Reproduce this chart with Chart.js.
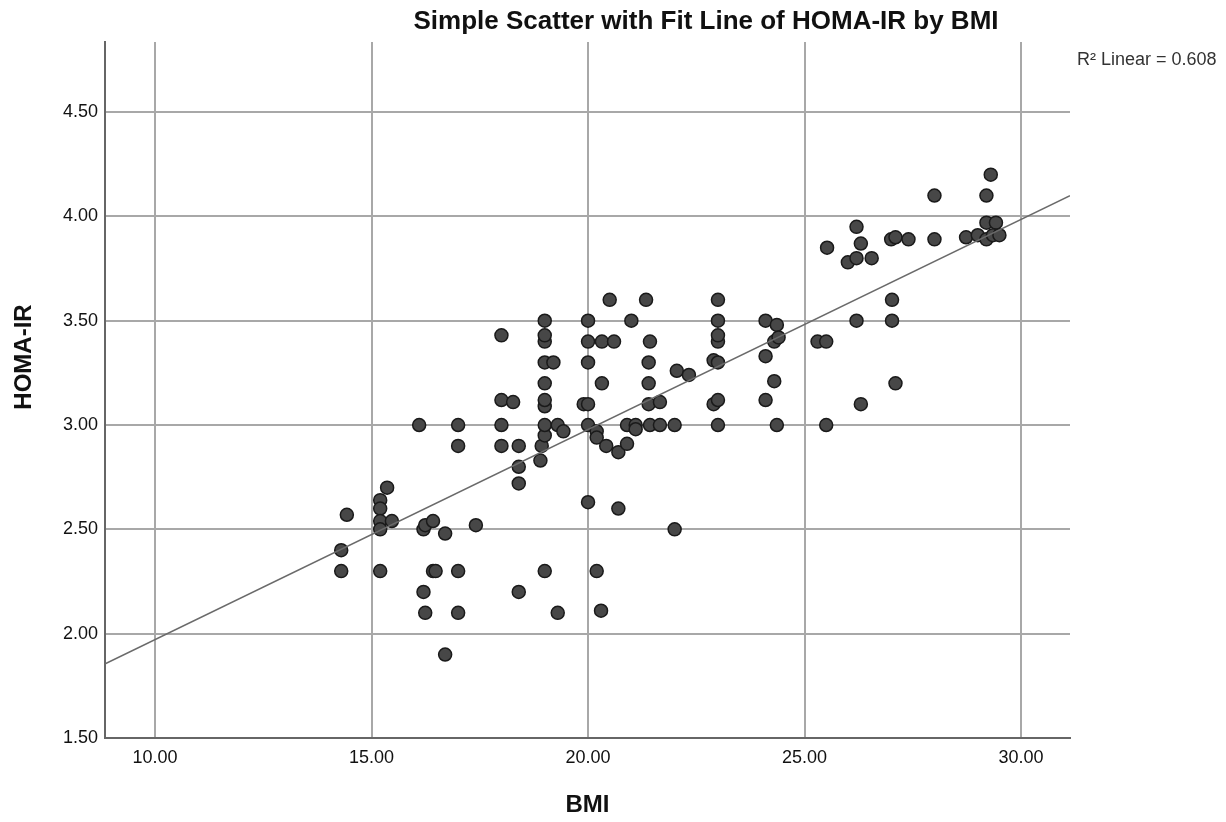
<!DOCTYPE html>
<html>
<head>
<meta charset="utf-8">
<script src="https://cdn.jsdelivr.net/npm/chart.js@4"></script>
<style>
  body { margin: 0; background: #fff; }
  #wrap { width: 1226px; height: 822px; }
</style>
</head>
<body>
<div id="wrap"><canvas id="myChart" width="1226" height="822"></canvas></div>
<script>
const ctx = document.getElementById('myChart');

// values
const bmi = [
  14.3, 14.3, 14.43, 15.2, 15.2, 15.2, 15.2, 15.2, 15.36, 15.47,
  16.1, 16.2, 16.24, 16.42, 16.7, 16.42, 16.48, 16.2, 16.24, 16.7,
  17.0, 17.0, 17.0, 17.0, 17.41, 18.0, 18.0, 18.0, 18.0, 18.27,
  18.4, 18.4, 18.4, 18.4, 18.93, 18.9, 19.0, 19.0, 19.0, 19.0,
  19.0, 19.0, 19.0, 19.0, 19.0, 19.0, 19.2, 19.3, 19.43, 19.3,
  19.9, 20.0, 20.0, 20.0, 20.0, 20.0, 20.0, 20.2, 20.2, 20.2,
  20.3, 20.32, 20.32, 20.42, 20.5, 20.6, 20.7, 20.7, 20.9, 20.9,
  21.0, 21.1, 21.1, 21.34, 21.43, 21.4, 21.4, 21.4, 21.43, 21.66,
  21.66, 22.0, 22.0, 22.05, 22.33, 22.9, 23.0, 22.9, 23.0, 23.0,
  23.0, 23.0, 23.0, 23.0, 24.1, 24.36, 24.1, 24.1, 24.3, 24.3,
  24.4, 24.36, 25.3, 25.5, 25.5, 25.52, 26.0, 26.2, 26.2, 26.3,
  26.55, 26.2, 26.3, 27.0, 27.1, 27.4, 27.02, 27.02, 27.1, 28.0,
  28.0, 28.73, 29.0, 29.2, 29.2, 29.2, 29.3, 29.42, 29.35, 29.5
];
const homaIR = [
  2.40, 2.30, 2.57, 2.64, 2.60, 2.54, 2.50, 2.30, 2.70, 2.54,
  3.00, 2.50, 2.52, 2.54, 2.48, 2.30, 2.30, 2.20, 2.10, 1.90,
  3.00, 2.90, 2.30, 2.10, 2.52, 3.00, 2.90, 3.12, 3.43, 3.11,
  2.90, 2.80, 2.72, 2.20, 2.90, 2.83, 2.95, 3.00, 3.09, 3.12,
  3.20, 3.30, 3.40, 3.43, 3.50, 2.30, 3.30, 3.00, 2.97, 2.10,
  3.10, 3.10, 3.00, 3.30, 3.40, 3.50, 2.63, 2.97, 2.94, 2.30,
  2.11, 3.20, 3.40, 2.90, 3.60, 3.40, 2.87, 2.60, 2.91, 3.00,
  3.50, 3.00, 2.98, 3.60, 3.40, 3.30, 3.20, 3.10, 3.00, 3.11,
  3.00, 3.00, 2.50, 3.26, 3.24, 3.31, 3.30, 3.10, 3.12, 3.00,
  3.40, 3.43, 3.50, 3.60, 3.50, 3.48, 3.33, 3.12, 3.21, 3.40,
  3.42, 3.00, 3.40, 3.40, 3.00, 3.85, 3.78, 3.80, 3.95, 3.87,
  3.80, 3.50, 3.10, 3.89, 3.90, 3.89, 3.60, 3.50, 3.20, 4.10,
  3.89, 3.90, 3.91, 3.89, 3.97, 4.10, 4.20, 3.97, 3.91, 3.91
];

// fit line end points (as drawn at the plot edges)
const fitX = [8.85, 31.13];
const fitY = [1.856, 4.10];

const xTicks = [10, 15, 20, 25, 30];
const yTicks = [1.5, 2.0, 2.5, 3.0, 3.5, 4.0, 4.5];

const points = bmi.map((v, i) => ({ x: v, y: homaIR[i] }));
const fitPoints = fitX.map((v, i) => ({ x: v, y: fitY[i] }));

const fontFamily = '"Liberation Sans", Arial, sans-serif';

// chart title, y axis title and the R² note sit where the original has them
const textPlugin = {
  id: 'extraText',
  afterDraw(chart) {
    const c = chart.ctx;
    c.save();
    c.fillStyle = '#111';
    c.font = 'bold 26px ' + fontFamily;
    c.textAlign = 'center';
    c.textBaseline = 'middle';
    c.fillText('Simple Scatter with Fit Line of HOMA-IR by BMI', 706, 22);

    c.font = 'bold 24px ' + fontFamily;
    c.translate(24, 357);
    c.rotate(-Math.PI / 2);
    c.fillText('HOMA-IR', 0, 0);
    c.setTransform(1, 0, 0, 1, 0, 0);

    c.fillStyle = '#333';
    c.font = '18px ' + fontFamily;
    c.textAlign = 'left';
    c.fillText('R² Linear = 0.608', 1077, 60);
    c.restore();
  }
};

const tickFont = { family: fontFamily, size: 18 };
const titleFont = { family: fontFamily, size: 24, weight: 'bold' };

new Chart(ctx, {
  data: {
    datasets: [
      {
        type: 'line',
        data: fitPoints,
        borderColor: '#6a6a6a',
        borderWidth: 1.5,
        pointRadius: 0,
        order: 0
      },
      {
        type: 'scatter',
        data: points,
        backgroundColor: '#474747',
        borderColor: '#1a1a1a',
        borderWidth: 1.5,
        pointRadius: 6.5,
        order: 1
      }
    ]
  },
  options: {
    responsive: false,
    animation: false,
    devicePixelRatio: 1,
    layout: { padding: { top: 42, right: 156, left: 0, bottom: 0 } },
    plugins: {
      legend: { display: false },
      tooltip: { enabled: false }
    },
    scales: {
      x: {
        type: 'linear',
        min: 8.845,
        max: 31.13,
        afterFit: (scale) => { scale.height = 84; },
        afterBuildTicks: (scale) => { scale.ticks = xTicks.map(v => ({ value: v })); },
        grid: { color: '#a8a8a8', lineWidth: 2, drawTicks: false },
        border: { color: '#666', width: 2 },
        ticks: {
          padding: 9,
          color: '#111',
          font: tickFont,
          callback: (v) => Number(v).toFixed(2)
        },
        title: { display: true, text: 'BMI', color: '#111', font: titleFont, padding: { top: 0, bottom: 2 } }
      },
      y: {
        type: 'linear',
        min: 1.5,
        max: 4.836,
        afterFit: (scale) => { scale.width = 105; },
        afterBuildTicks: (scale) => { scale.ticks = yTicks.map(v => ({ value: v })); },
        grid: { color: '#a8a8a8', lineWidth: 2, drawTicks: false },
        border: { color: '#666', width: 2 },
        ticks: {
          padding: 7,
          color: '#111',
          font: tickFont,
          callback: (v) => Number(v).toFixed(2)
        }
      }
    }
  },
  plugins: [textPlugin]
});
</script>
</body>
</html>
